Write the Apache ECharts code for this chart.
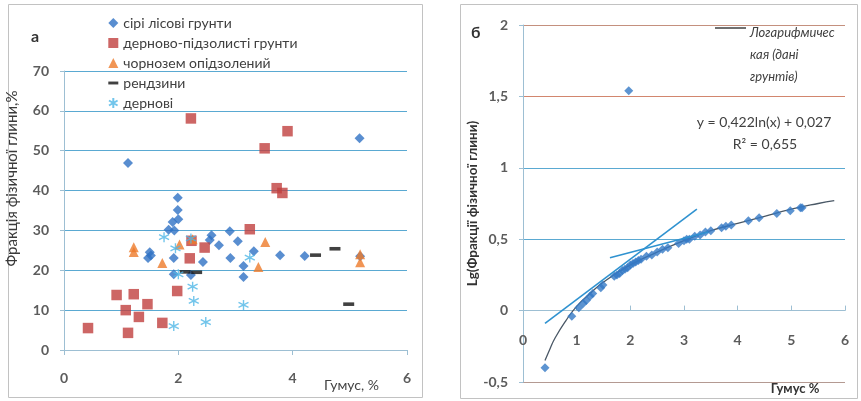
<!DOCTYPE html>
<html><head><meta charset="utf-8">
<script src="https://cdn.jsdelivr.net/npm/echarts@6/dist/echarts.min.js"></script>
<style>html,body{margin:0;padding:0;background:#fff}#c{width:861px;height:401px}</style>
</head><body><div id="c"></div>
<script>
// ---- Panel a: fraction of physical clay vs humus ----
const seriLisovi = [[1.12,46.9],[5.17,53.1],[1.99,38.2],[1.99,35.1],[2.0,32.8],[1.9,32.1],[1.83,30.2],[1.93,30.0],[2.9,29.8],[3.04,27.3],[2.58,28.8],[2.55,27.6],[2.71,26.3],[2.43,22.1],[2.91,23.1],[1.92,23.1],[1.5,24.5],[1.52,23.7],[1.47,23.1],[3.14,21.1],[3.14,18.3],[3.32,24.8],[1.92,19.0],[2.22,18.8],[3.78,23.8],[4.21,23.6],[5.18,23.5]];
const dernovoPidzol = [[2.22,58.1],[3.91,54.9],[3.51,50.6],[3.72,40.6],[3.82,39.4],[3.25,30.3],[2.23,27.4],[2.46,25.7],[2.2,23.0],[1.98,14.8],[0.42,5.5],[0.92,13.8],[1.22,14.0],[1.08,10.0],[1.46,11.5],[1.31,8.3],[1.12,4.3],[1.72,6.8]];
const chornozem = [[1.22,25.8],[1.22,24.6],[1.72,21.8],[2.02,26.5],[2.25,27.8],[3.52,27.1],[3.40,20.8],[5.18,24.0],[5.18,22.0]];
const rendzyny = [[2.12,19.6],[2.32,19.5],[4.4,23.8],[4.74,25.4],[4.98,11.5]];
const dernovi = [[1.75,28.3],[1.95,25.5],[2.0,19.0],[2.25,15.9],[2.27,12.3],[1.92,6.0],[2.48,7.0],[3.14,11.3],[3.25,23.2],[2.22,28.0]];
const seriesNamesA = ['сірі лісові грунти','дерново-підзолисті грунти','чорнозем опідзолений','рендзини','дернові'];
const yTicksA = [0,10,20,30,40,50,60,70];
const xTicksA = [0,2,4,6];

// ---- Panel б: lg(fraction) vs humus ----
const lgPoints = [[1.97,1.54],[0.41,-0.40],[0.91,-0.04],[1.04,0.02],[1.12,0.05],[1.18,0.07],[1.25,0.10],[1.3,0.12],[1.45,0.16],[1.49,0.18],[1.7,0.24],[1.75,0.25],[1.8,0.26],[1.85,0.28],[1.9,0.29],[1.95,0.30],[2.0,0.32],[2.05,0.33],[2.1,0.34],[2.15,0.35],[2.2,0.36],[2.3,0.38],[2.4,0.39],[2.5,0.41],[2.6,0.43],[2.7,0.44],[2.9,0.47],[3.0,0.49],[3.05,0.50],[3.1,0.50],[3.2,0.52],[3.3,0.53],[3.4,0.55],[3.5,0.56],[3.7,0.58],[3.78,0.59],[3.88,0.60],[4.2,0.63],[4.4,0.65],[4.73,0.68],[4.98,0.70],[5.17,0.72],[5.2,0.72]];
const trendLine = [[0.41,-0.35],[0.5,-0.27],[0.6,-0.19],[0.8,-0.07],[1,0.03],[1.25,0.12],[1.5,0.20],[2,0.32],[2.5,0.41],[3,0.49],[3.5,0.56],[4,0.61],[4.5,0.66],[5,0.71],[5.5,0.75],[5.8,0.77]];
const tangent1 = [[0.41,-0.09],[3.24,0.71]];
const tangent2 = [[1.62,0.37],[3.45,0.55]];
const yTicksB = ['-0,5','0','0,5','1','1,5','2'];
const xTicksB = ['0','1','2','3','4','5','6'];

const FONT = 'Lato';
const BLUE_GRID = '#5aa9d2';
const RED_GRID = '#d2866e';
const AXIS = '#9dbfd3';
const LABEL = '#5c5c5c';

const asterisk = 'path://M5,0L5,10M0.7,2.5L9.3,7.5M0.7,7.5L9.3,2.5';
const dashIcon = 'path://M0,0H12V3.5H0Z';

const chart = echarts.init(document.getElementById('c'), null, {renderer:'canvas'});
const tickLabel = {fontSize:14, fontWeight:'bold', color:LABEL, fontFamily:FONT};
const option = {
  animation:false,
  textStyle:{fontFamily:FONT},
  grid:[
    {left:64, top:71, width:343, height:279, containLabel:false, outerBoundsMode:'none'},
    {left:523, top:25, width:322, height:357, containLabel:false, outerBoundsMode:'none'}
  ],
  legend:{
    orient:'vertical', left:103, top:11, itemWidth:10, itemHeight:10, itemGap:6,
    textStyle:{fontFamily:FONT, fontSize:14, color:'#404040', lineHeight:14},
    data:[seriesNamesA[0], seriesNamesA[1], seriesNamesA[2], {name:seriesNamesA[3], icon:dashIcon}, seriesNamesA[4]]
  },
  xAxis:[
    {gridIndex:0, type:'value', min:0, max:6, interval:2,
     axisLine:{show:true, lineStyle:{color:AXIS}}, axisTick:{show:true, length:5, lineStyle:{color:AXIS}},
     splitLine:{show:false},
     axisLabel:Object.assign({margin:21, formatter:v=>String(xTicksA[xTicksA.indexOf(v)])}, tickLabel),
     name:'Гумус, %', nameLocation:'middle', nameGap:28, nameMoveOverlap:false,
     nameTextStyle:{fontSize:14, color:'#444', fontFamily:FONT, padding:[0,0,0,232]}},
    {gridIndex:1, type:'value', min:0, max:6, interval:1,
     axisLine:{show:false, onZero:false}, axisTick:{show:false},
     splitLine:{show:false},
     axisLabel:Object.assign({margin:-49, formatter:v=>xTicksB[v]}, tickLabel),
     name:'Гумус %', nameLocation:'middle', nameGap:0, nameMoveOverlap:false,
     nameTextStyle:{fontSize:13, fontWeight:'bold', color:'#333', fontFamily:FONT, padding:[0,0,0,222]}},
    {gridIndex:1, type:'value', min:0, max:6, interval:1,
     axisLine:{show:true, onZero:true, onZeroAxisIndex:1, lineStyle:{color:AXIS}}, axisTick:{show:true, length:5, lineStyle:{color:AXIS}},
     splitLine:{show:false}, axisLabel:{show:false}}
  ],
  yAxis:[
    {gridIndex:0, type:'value', min:0, max:70, interval:10,
     axisLine:{show:true, lineStyle:{color:AXIS}}, axisTick:{show:true, length:4, lineStyle:{color:AXIS}},
     splitLine:{show:true, lineStyle:{color:BLUE_GRID, width:1}},
     axisLabel:Object.assign({margin:15, formatter:v=>String(yTicksA[yTicksA.indexOf(v)])}, tickLabel),
     name:'Фракція фізичної глини,%', nameLocation:'middle', nameGap:44,
     nameTextStyle:{fontSize:15, color:'#3a3a3a', fontFamily:FONT, padding:[0,0,0,64]}},
    {gridIndex:1, type:'value', min:-0.5, max:2, interval:0.5,
     axisLine:{show:true, onZero:false, lineStyle:{color:AXIS}}, axisTick:{show:true, length:4, lineStyle:{color:AXIS}},
     splitLine:{show:true, lineStyle:{color:['#b49a92',BLUE_GRID,BLUE_GRID,BLUE_GRID,RED_GRID,'#c4907e'], width:1}},
     axisLabel:Object.assign({margin:15, formatter:v=>yTicksB[Math.round((v+0.5)/0.5)]}, tickLabel),
     name:'Lg(Фракції фізичної глини)', nameLocation:'middle', nameGap:40,
     nameTextStyle:{fontSize:13.5, fontWeight:'bold', color:'#333', fontFamily:FONT}}
  ],
  series:[
    {name:seriesNamesA[0], type:'scatter', xAxisIndex:0, yAxisIndex:0, data:seriLisovi, symbol:'diamond', symbolSize:10, itemStyle:{color:'#2f72c4'}},
    {name:seriesNamesA[1], type:'scatter', xAxisIndex:0, yAxisIndex:0, data:dernovoPidzol, symbol:'rect', symbolSize:10.5, itemStyle:{color:'#c0403f'}},
    {name:seriesNamesA[2], type:'scatter', xAxisIndex:0, yAxisIndex:0, data:chornozem, symbol:'triangle', symbolSize:10, itemStyle:{color:'#ee7a2a'}},
    {name:seriesNamesA[3], type:'scatter', xAxisIndex:0, yAxisIndex:0, data:rendzyny, symbol:'rect', symbolSize:[11,3.6], itemStyle:{color:'#111'}},
    {name:seriesNamesA[4], type:'scatter', xAxisIndex:0, yAxisIndex:0, data:dernovi, symbol:asterisk, symbolSize:10, itemStyle:{color:'rgba(0,0,0,0)', borderColor:'#4fb6e6', borderWidth:1.4}},
    {name:'trend', type:'line', xAxisIndex:1, yAxisIndex:1, data:trendLine, smooth:true, showSymbol:false, lineStyle:{color:'#4a5866', width:1.3}, z:1},
    {name:'tan1', type:'line', xAxisIndex:1, yAxisIndex:1, data:tangent1, showSymbol:false, lineStyle:{color:'#2f92d0', width:1.6}, z:3},
    {name:'tan2', type:'line', xAxisIndex:1, yAxisIndex:1, data:tangent2, showSymbol:false, lineStyle:{color:'#2f92d0', width:1.6}, z:3},
    {name:'lg', type:'scatter', xAxisIndex:1, yAxisIndex:1, data:lgPoints, symbol:'diamond', symbolSize:9, itemStyle:{color:'#3479c6'}, z:2}
  ],
  graphic:[
    {type:'rect', shape:{x:8.5,y:4.5,width:414,height:393}, style:{fill:null, stroke:'#c2c2c2', lineWidth:1}, silent:true},
    {type:'rect', shape:{x:460.5,y:4.5,width:397,height:394}, style:{fill:null, stroke:'#c2c2c2', lineWidth:1}, silent:true},
    {type:'text', left:31, top:29, style:{text:'а', font:'bold 16px '+FONT, fill:'#333'}},
    {type:'text', left:471, top:25, style:{text:'б', font:'bold 16px '+FONT, fill:'#333'}},
    {type:'line', shape:{x1:715,y1:28,x2:746,y2:28}, style:{stroke:'#222', lineWidth:1.3}},
    {type:'text', left:750, top:22, style:{text:'Логарифмичес\nкая (дані\nгрунтів)', font:'italic 13px '+FONT, fill:'#404040', lineHeight:22}},
    {type:'text', x:764, y:122, style:{text:'y = 0,422ln(x) + 0,027', font:'14px '+FONT, fill:'#404040', textAlign:'center', textVerticalAlign:'middle'}},
    {type:'text', x:765, y:144, style:{text:'R² = 0,655', font:'14px '+FONT, fill:'#404040', textAlign:'center', textVerticalAlign:'middle'}}
  ]
};
chart.setOption(option);
</script></body></html>
